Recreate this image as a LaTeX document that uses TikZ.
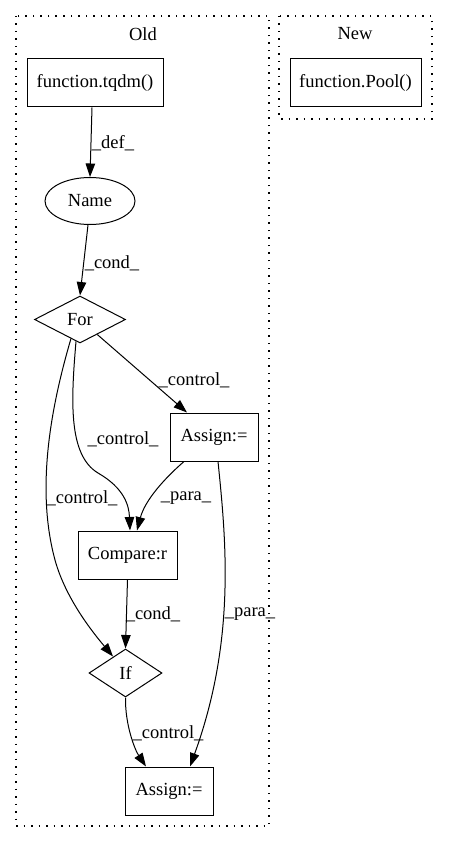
\documentclass[tikz,border=0pt]{standalone}
\usepackage{fontspec}
\setmainfont{Liberation Serif}
\usetikzlibrary{shapes.geometric,arrows.meta,calc}
\begin{document}
\begin{tikzpicture}[x=1pt,y=-1pt,
  every node/.style={font=\fontsize{18.5}{22}\selectfont},
  box/.style={draw,line width=1pt,rectangle,minimum height=48pt,inner sep=0pt},
  oval/.style={draw,line width=1pt,ellipse,inner sep=0pt},
  dia/.style={draw,line width=1pt,diamond,inner sep=0pt},
  cluster/.style={draw,line width=1.2pt,dash pattern=on 1.5pt off 6pt},
  edge/.style={draw,line width=1pt,-{Triangle[length=13.5pt,width=9.5pt]}},
  lbl/.style={inner sep=0pt}]
\useasboundingbox (0,0) rectangle (448,842);
% clusters
\draw[cluster] (16,16) rectangle (269,826);
\draw[cluster] (279,16) rectangle (432,119);
\node[lbl] (oldlbl) at (143,34) {Old};
\node[lbl] (newlbl) at (355,34) {New};
% nodes
\node[box,minimum width=136pt] (tqdm) at (95,83) {function.tqdm()};
\node[box,minimum width=131pt] (pool) at (355.5,83) {function.Pool()};
\node[oval,minimum width=90pt,minimum height=47pt] (name) at (90,201) {Name};
\node[dia,minimum width=91pt,minimum height=47pt] (for) at (80,319.5) {For};
\node[box,minimum width=88pt] (assignA) at (214,437) {Assign:=};
\node[box,minimum width=99pt] (compare) at (127.5,555) {Compare:r};
\node[dia,minimum width=73pt,minimum height=48pt] (if) at (125.5,673) {If};
\node[box,minimum width=88pt] (assignB) at (169,791) {Assign:=};
% edges
\draw[edge] ($(tqdm.south)+(-3,0)$) -- (name.north)
  node[lbl] at (113,143) {\_def\_};
\draw[edge] ($(name.south)+(-2,0)$) -- (for.north)
  node[lbl] at (112,263) {\_cond\_};
\draw[edge] (for) -- ($(assignA.north)+(-27,0)$)
  node[lbl] at (194,380) {\_control\_};
\draw[edge] ($(for.south)+(-4,-2)$) .. controls (71,400) and (68,455) .. (98,473)
  .. controls (124,488) and (129,505) .. ($(compare.north)+(2.5,0)$)
  node[lbl] at (123,439) {\_control\_};
\draw[edge] ($(for.south)+(-9,-5)$) .. controls (50,410) and (36,490) .. (55,560)
  .. controls (66,600) and (95,635) .. ($(if.north)+(-12.5,8)$)
  node[lbl] at (82,498) {\_control\_};
\draw[edge] ($(assignA.south)+(-30,0)$) .. controls (165,478) and (145,500) .. ($(compare.north)+(9.5,0)$)
  node[lbl] at (186,498) {\_para\_};
\draw[edge] ($(assignA.south)+(4,0)$) .. controls (226,540) and (236,640) .. ($(assignB.north)+(21,0)$)
  node[lbl] at (250,614) {\_para\_};
\draw[edge] (compare.south) -- (if.north)
  node[lbl] at (153,614) {\_cond\_};
\draw[edge] (if.south) .. controls (125,725) and (135,750) .. ($(assignB.north)+(-23,0)$)
  node[lbl] at (168,733) {\_control\_};
\end{tikzpicture}
\end{document}
